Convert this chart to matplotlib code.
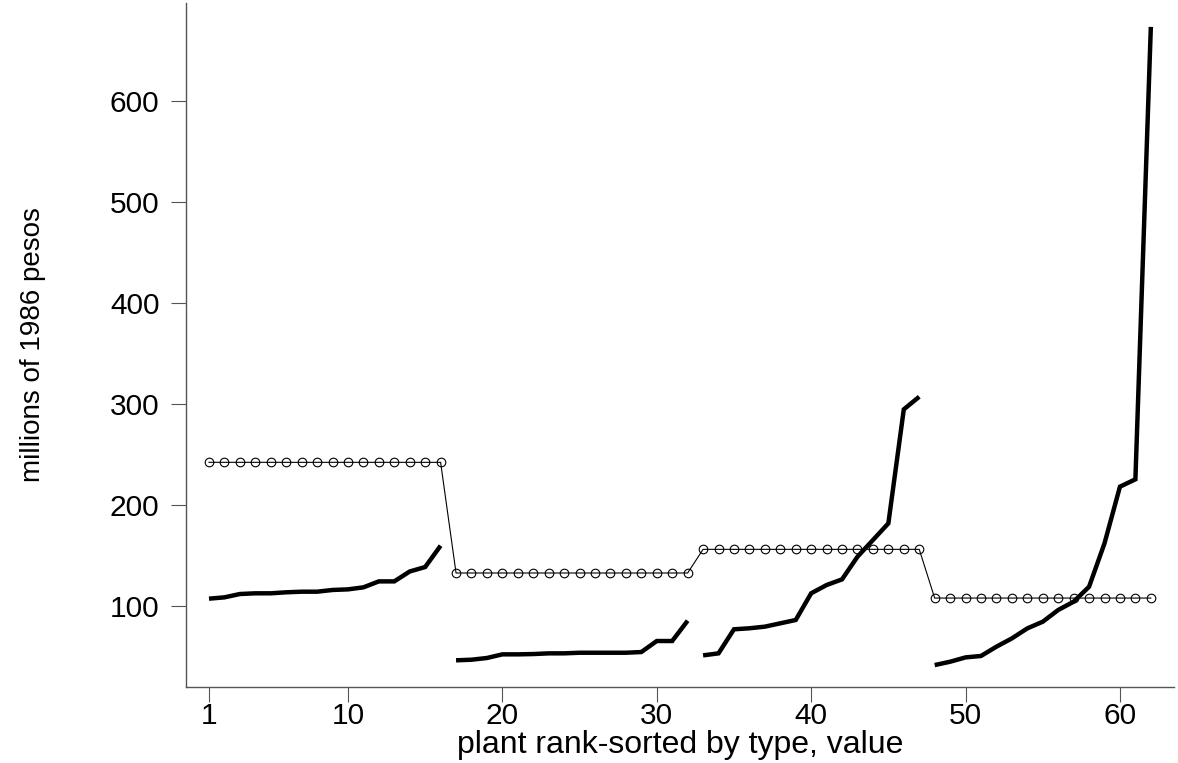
import matplotlib
matplotlib.use("Agg")
import matplotlib.pyplot as plt
import numpy as np

plt.rcParams['font.family'] = ['Liberation Sans', 'DejaVu Sans']

# plant ranks by type group
rank_g1 = list(range(1, 17))
rank_g2 = list(range(17, 33))
rank_g3 = list(range(33, 48))
rank_g4 = list(range(48, 63))

# plant values (thick lines), millions of 1986 pesos
value_g1 = [107.3, 108.6, 111.9, 112.6, 112.6, 113.6, 114.2, 114.2, 115.9, 116.5,
            118.5, 124.4, 124.4, 134.2, 138.6, 159.7]
value_g2 = [46.3, 46.9, 48.6, 52.2, 52.2, 52.5, 53.2, 53.2, 53.8, 53.8,
            53.8, 53.8, 54.5, 65.4, 65.4, 85.5]
value_g3 = [51.2, 53.2, 77.0, 78.0, 79.6, 82.9, 86.2, 112.6, 120.8, 126.4,
            148.8, 165.3, 181.8, 294.6, 307.1]
value_g4 = [41.6, 44.9, 49.2, 50.6, 59.8, 68.0, 77.9, 84.5, 96.1, 104.3,
            119.1, 162.1, 218.1, 225.4, 673.0]

# group averages (circles)
group_mean = [242.2, 132.7, 156.1, 107.9]

x_ticks = [1, 10, 20, 30, 40, 50, 60]
y_ticks = [100, 200, 300, 400, 500, 600]

fig = plt.figure(figsize=(11.78, 7.63), dpi=100)
ax = fig.add_axes([0.1575, 0.1, 0.8391, 0.896])

ranks = [rank_g1, rank_g2, rank_g3, rank_g4]
values = [value_g1, value_g2, value_g3, value_g4]

# mean line with circles over all plants
all_x = []
all_m = []
for r, m in zip(ranks, group_mean):
    all_x += r
    all_m += [m] * len(r)
ax.plot(all_x, all_m, color='black', linewidth=0.8, marker='o', markersize=6.2,
        markerfacecolor='none', markeredgecolor='black', markeredgewidth=0.8,
        zorder=2)

for r, v in zip(ranks, values):
    ax.plot(r, v, color='black', linewidth=3.2, solid_joinstyle='miter',
            solid_capstyle='butt', zorder=3)

ax.set_xlim(-0.52, 63.5)
ax.set_ylim(20.2, 696.6)
ax.set_xticks(x_ticks)
ax.set_yticks(y_ticks)

for s in ['top', 'right']:
    ax.spines[s].set_visible(False)
for s in ['left', 'bottom']:
    ax.spines[s].set_color('#555555')
    ax.spines[s].set_linewidth(1.0)

ax.tick_params(axis='both', direction='out', length=10.8, width=0.8,
               color='#555555', labelsize=21.5, labelcolor='black')
ax.tick_params(axis='x', pad=0.5)
ax.tick_params(axis='y', pad=8)

ax.set_xlabel('plant rank-sorted by type, value', fontsize=23)
ax.xaxis.set_label_coords(0.5, -0.064)
ax.set_ylabel('millions of 1986 pesos', fontsize=20)
ax.yaxis.set_label_coords(-0.141, 0.5)

fig.savefig('out.png', dpi=100, facecolor='white')
